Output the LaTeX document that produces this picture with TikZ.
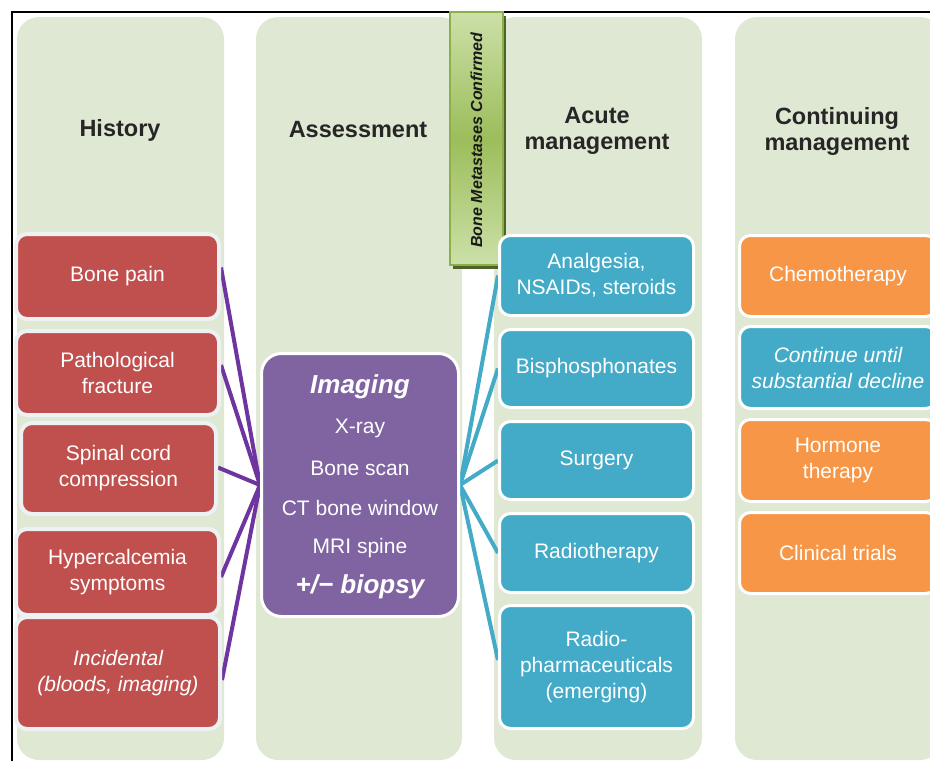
\documentclass[tikz,border=0pt]{standalone}
\usepackage{fontspec}
\setmainfont{Liberation Sans}
\usetikzlibrary{calc}
\definecolor{colbg}{HTML}{DFE8D3}
\definecolor{redf}{HTML}{C0504D}
\definecolor{redb}{HTML}{EEF1F3}
\definecolor{purf}{HTML}{8064A2}
\definecolor{purl}{HTML}{6E35A0}
\definecolor{bluef}{HTML}{43ABC7}
\definecolor{oraf}{HTML}{F79646}
\definecolor{hdr}{HTML}{262626}
\definecolor{lblA}{HTML}{CCE0A8}
\definecolor{lblB}{HTML}{9CBD5B}
\definecolor{lblD}{HTML}{8DAF4A}
\definecolor{lblS}{HTML}{4F6228}
\pgfdeclarelayer{bg}
\pgfdeclarelayer{lines}
\pgfsetlayers{bg,lines,main}
\begin{document}
\begin{tikzpicture}[x=1pt,y=-1pt,
 col/.style={fill=colbg, rounded corners=22},
 hdrtext/.style={text=hdr, font=\fontsize{23.5}{26}\selectfont\bfseries, align=center},
 box/.style={rounded corners=11, text=white, align=center, inner sep=0, font=\fontsize{21}{26}\selectfont},
 itbox/.style={font=\fontsize{21}{26}\selectfont\itshape},
 redbox/.style={box, fill=redf, draw=redb, line width=4},
 bluebox/.style={box, fill=bluef, draw=white, line width=3},
 orabox/.style={box, fill=oraf, draw=white, line width=3},
 purtext/.style={text=white, font=\fontsize{21}{26}\selectfont},
 purbig/.style={text=white, font=\fontsize{26}{30}\selectfont\bfseries\itshape},
 purline/.style={draw=purl, line width=4},
 blueline/.style={draw=bluef, line width=4},
]
\useasboundingbox (0,0) rectangle (930,761);
\clip (0,0) rectangle (930,761);

% columns
\begin{pgfonlayer}{bg}
\fill[col] (17,17) rectangle (224,760);
\fill[col] (256,17) rectangle (462,760);
\fill[col] (494,17) rectangle (702,760);
\fill[col] (735,17) rectangle (942,760);
\draw[line width=2, black] (932,12) -- (12,12) -- (12,763);
\end{pgfonlayer}

% headers
\node[hdrtext] (h1) at (120,130) {History};
\node[hdrtext] (h2) at (358,130) {Assessment};
\node[hdrtext] (h3) at (597,131) {Acute\\management};
\node[hdrtext] (h4) at (837,131) {Continuing\\management};

% label
\fill[lblS] (453,16) rectangle (506,269);
\shade[top color=lblA, bottom color=lblA, middle color=lblB] (450,12) rectangle (503,265);
\draw[lblD, line width=1.5] (450,12) rectangle (503,265);
\node[rotate=90, text=black!90, font=\fontsize{16}{18}\selectfont\bfseries\itshape] (lbl) at (476.5,140) {Bone Metastases Confirmed};

% history boxes
\node[redbox, minimum width=203, minimum height=85] (bp) at (117.5,276.5) {Bone pain};
\node[redbox, minimum width=203, minimum height=84] (pf) at (117.5,373) {Pathological\\fracture};
\node[redbox, minimum width=195, minimum height=91] (sc) at (118.5,468.5) {Spinal cord\\compression};
\node[redbox, minimum width=203, minimum height=86] (hc) at (117.5,572) {Hypercalcemia\\symptoms};
\node[redbox, itbox, minimum width=204, minimum height=112] (inc) at (118,673) {Incidental\\(bloods, imaging)};

% assessment box
\node[box, fill=purf, draw=white, line width=3, rounded corners=20, minimum width=197, minimum height=263] (pu) at (360,485) {};
\node[purbig] (t1) at (360,387) {Imaging};
\node[purtext] (t2) at (360,428) {X-ray};
\node[purtext] (t3) at (360,468) {Bone scan};
\node[purtext] (t4) at (360,508) {CT bone window};
\node[purtext] (t5) at (360,548) {MRI spine};
\node[purbig] (t6) at (360,587) {+/− biopsy};

% acute management boxes
\node[bluebox, minimum width=194, minimum height=80] (an) at (596.5,275.5) {Analgesia,\\NSAIDs, steroids};
\node[bluebox, minimum width=194, minimum height=78] (bi) at (596.5,368.5) {Bisphosphonates};
\node[bluebox, minimum width=194, minimum height=78] (su) at (596.5,460.5) {Surgery};
\node[bluebox, minimum width=194, minimum height=79] (ra) at (596.5,553) {Radiotherapy};
\node[bluebox, minimum width=194, minimum height=123] (rp) at (596.5,667) {Radio-\\pharmaceuticals\\(emerging)};

% continuing management boxes
\node[orabox, minimum width=197, minimum height=81] (ch) at (838,276) {Chemotherapy};
\node[bluebox, itbox, minimum width=197, minimum height=82] (ct) at (838,367.5) {Continue until\\substantial decline};
\node[orabox, minimum width=197, minimum height=82] (ho) at (838,460.5) {Hormone\\therapy};
\node[orabox, minimum width=197, minimum height=81] (cl) at (838,553) {Clinical trials};

% connectors
\begin{pgfonlayer}{lines}
\draw[purline] ($(bp.east)+(0,-9)$) -- (pu.west);
\draw[purline] ($(pf.east)+(0,-8)$) -- (pu.west);
\draw[purline] ($(sc.east)+(0,-1)$) -- (pu.west);
\draw[purline] ($(hc.east)+(0,5)$) -- (pu.west);
\draw[purline] ($(inc.east)+(0,7)$) -- (pu.west);
\draw[blueline] (pu.east) -- (an.west);
\draw[blueline] (pu.east) -- (bi.west);
\draw[blueline] (pu.east) -- (su.west);
\draw[blueline] (pu.east) -- (ra.west);
\draw[blueline] (pu.east) -- ($(rp.west)+(0,-7)$);
\end{pgfonlayer}
\end{tikzpicture}
\end{document}
